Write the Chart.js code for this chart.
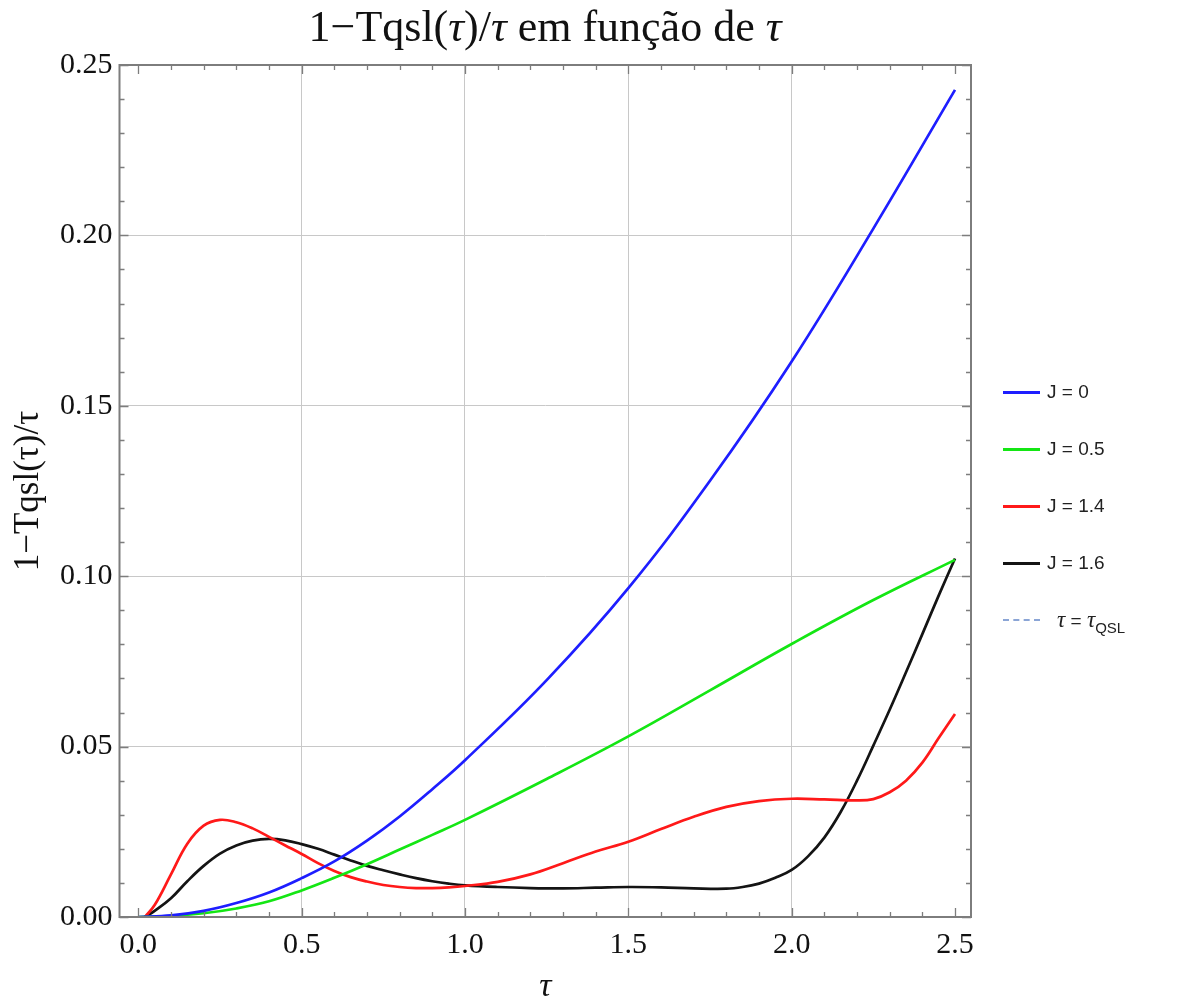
<!DOCTYPE html>
<html>
<head>
<meta charset="utf-8">
<script src="https://cdn.jsdelivr.net/npm/chart.js@4.4.1/dist/chart.umd.min.js"></script>
<style>
    html, body { margin: 0; padding: 0; background: #fff; }
    #wrap { position: relative; width: 1184px; height: 1005px; }
    #title { position: absolute; left: 0; width: 1090px; top: 2px; text-align: center; font-family: 'Liberation Serif', serif; font-size: 44px; line-height: 50px; color: #111; white-space: nowrap; }
    #legend { position: absolute; left: 1003px; top: 0; font-family: 'Liberation Sans', Arial, sans-serif; font-size: 19px; color: #222; }
    .item { position: absolute; left: 0; white-space: nowrap; height: 24px; }
    .swatch { position: absolute; left: 0; top: 11px; width: 37px; height: 0; border-top: 3px solid; }
    .lbl { position: absolute; left: 44px; top: 0; line-height: 24px; }
    .tau { font-family: 'Liberation Serif', serif; font-style: italic; font-size: 23px; }
    sub { font-size: 15px; vertical-align: -6px; }
</style>
</head>
<body>
<div id="wrap">
    <canvas id="myChart" width="1184" height="1005"></canvas>
    <div id="title">1−Tqsl(<i>τ</i>)/<i>τ</i> em função de <i>τ</i></div>
    <div id="legend"></div>
</div>
<script>
'use strict';

/*---------------------------- dados ----------------------------*/
const xTicks = [0, 0.5, 1.0, 1.5, 2.0, 2.5];
const yTicks = [0, 0.05, 0.10, 0.15, 0.20, 0.25];

// J = 0
const tauJ0 = [0, 0.1, 0.2, 0.3, 0.4, 0.5, 0.6, 0.7, 0.8, 0.9, 1.0, 1.25, 1.5, 1.75, 2.0, 2.25, 2.5];
const valJ0 = [0, 0.0005, 0.0018, 0.0041, 0.0072, 0.0114, 0.0163, 0.0224, 0.0295, 0.0375, 0.046, 0.0695, 0.0965, 0.128, 0.163, 0.202, 0.2427];

// J = 0.5
const tauJ05 = [0, 0.1, 0.2, 0.3, 0.4, 0.5, 0.6, 0.7, 0.8, 0.9, 1.0, 1.25, 1.5, 1.75, 2.0, 2.25, 2.5];
const valJ05 = [0, 0.0003, 0.0011, 0.0025, 0.0046, 0.0078, 0.0115, 0.0155, 0.0198, 0.0241, 0.0285, 0.0405, 0.053, 0.0665, 0.0801, 0.093, 0.1048];

// J = 1.4
const tauJ14 = [0.02, 0.05, 0.1, 0.15, 0.2, 0.25, 0.3, 0.35, 0.4, 0.45, 0.5, 0.55, 0.6, 0.65, 0.7, 0.75, 0.8, 0.85, 0.9, 0.95, 1.0,
    1.1, 1.2, 1.3, 1.4, 1.5, 1.6, 1.7, 1.8, 1.9, 2.0, 2.1, 2.2, 2.25, 2.3, 2.35, 2.4, 2.45, 2.5];
const valJ14 = [0, 0.0035, 0.0125, 0.0215, 0.0268, 0.0285, 0.0278, 0.026, 0.0235, 0.021, 0.0185, 0.0158, 0.0135, 0.0117, 0.0104, 0.0094, 0.0088, 0.0085, 0.0085, 0.0087, 0.0091,
    0.0103, 0.0125, 0.0158, 0.0192, 0.0221, 0.0258, 0.0294, 0.0323, 0.034, 0.0347, 0.0345, 0.0342, 0.0346, 0.0366, 0.04, 0.0453, 0.0525, 0.0596];

// J = 1.6
const tauJ16 = [0.02, 0.05, 0.1, 0.15, 0.2, 0.25, 0.3, 0.35, 0.4, 0.45, 0.5, 0.55, 0.6, 0.65, 0.7, 0.75, 0.8, 0.85, 0.9, 0.95, 1.0,
    1.1, 1.2, 1.3, 1.4, 1.5, 1.6, 1.7, 1.8, 1.85, 1.9, 1.95, 2.0, 2.05, 2.1, 2.15, 2.2, 2.25, 2.3, 2.35, 2.4, 2.45, 2.5];
const valJ16 = [0, 0.0018, 0.0055, 0.0105, 0.015, 0.0186, 0.021, 0.0224, 0.0229, 0.0225, 0.0214, 0.02, 0.0183, 0.0166, 0.015, 0.0137, 0.0125, 0.0114, 0.0105, 0.0098, 0.0093,
    0.0088, 0.0085, 0.0084, 0.0086, 0.0088, 0.0087, 0.0084, 0.0083, 0.0088, 0.0098, 0.0115, 0.0138, 0.0178, 0.0233, 0.0308, 0.04, 0.0503, 0.0608, 0.0718, 0.083, 0.0943, 0.1052];

// tau = tau_QSL
const tauQSL = [0, 2.5];
const valQSL = [0, 0];

const labels = ['J = 0', 'J = 0.5', 'J = 1.4', 'J = 1.6'];
const colors = ['rgb(30, 30, 255)', 'rgb(20, 230, 20)', 'rgb(255, 25, 25)', 'rgb(20, 20, 20)'];
const qslColor = 'rgba(100, 135, 200, 0.75)';

/*---------------------------- chart ----------------------------*/
const toPts = (xs, ys) => xs.map((x, i) => ({ x: x, y: ys[i] }));
const series = [[tauJ0, valJ0], [tauJ05, valJ05], [tauJ14, valJ14], [tauJ16, valJ16]];

const datasets = series.map((s, i) => ({
    label: labels[i],
    data: toPts(s[0], s[1]),
    borderColor: colors[i],
    borderWidth: 2.7,
    pointRadius: 0,
    tension: 0.4,
    fill: false
}));
datasets.push({
    label: 'τ = τQSL',
    data: toPts(tauQSL, valQSL),
    borderColor: qslColor,
    borderWidth: 2,
    borderDash: [6, 4],
    pointRadius: 0,
    fill: false
});

const FRAME = 'rgb(125, 125, 125)';

// moldura + ticks internos (maiores e menores)
const frameTicks = {
    id: 'frameTicks',
    afterDatasetsDraw(chart) {
        const ctx = chart.ctx;
        const a = chart.chartArea;
        const xs = chart.scales.x, ys = chart.scales.y;
        ctx.save();
        ctx.strokeStyle = FRAME;
        ctx.lineWidth = 1.3;
        ctx.beginPath();
        for (let i = 0; i <= 25; i++) {
            const px = Math.round(xs.getPixelForValue(i / 10)) + 0.5;
            const len = (i % 5 === 0) ? 9 : 5;
            ctx.moveTo(px, a.bottom); ctx.lineTo(px, a.bottom - len);
            ctx.moveTo(px, a.top); ctx.lineTo(px, a.top + len);
        }
        for (let i = 0; i <= 25; i++) {
            const py = Math.round(ys.getPixelForValue(i / 100)) + 0.5;
            const len = (i % 5 === 0) ? 9 : 5;
            ctx.moveTo(a.left, py); ctx.lineTo(a.left + len, py);
            ctx.moveTo(a.right, py); ctx.lineTo(a.right - len, py);
        }
        ctx.stroke();
        ctx.lineWidth = 2;
        ctx.strokeRect(a.left, a.top, a.right - a.left, a.bottom - a.top);
        ctx.restore();
    }
};

const gridColor = (edge) => (c) => (c.tick && edge.includes(c.tick.value)) ? 'rgba(0,0,0,0)' : 'rgb(200, 200, 200)';

const config = {
    type: 'line',
    data: { datasets: datasets },
    options: {
        responsive: false,
        animation: false,
        devicePixelRatio: 1,
        layout: { padding: { left: 0, right: 213, top: 65, bottom: 0 } },
        plugins: {
            legend: { display: false },
            tooltip: { enabled: false },
            title: { display: false }
        },
        scales: {
            x: {
                type: 'linear',
                min: -0.0576,
                max: 2.549,
                afterBuildTicks: (s) => { s.ticks = xTicks.map(v => ({ value: v })); },
                afterFit: (s) => { s.height = 88; },
                border: { display: false },
                grid: { color: gridColor([0, 2.5]), lineWidth: 1, drawTicks: false },
                ticks: {
                    padding: 10,
                    color: '#111',
                    font: { family: 'Liberation Serif', size: 30 },
                    maxRotation: 0,
                    callback: (v) => Number(v).toFixed(1)
                },
                title: {
                    display: true,
                    text: 'τ',
                    color: '#111',
                    font: { family: 'Liberation Serif', size: 34, style: 'italic' },
                    padding: { top: 0, bottom: -2 }
                }
            },
            y: {
                type: 'linear',
                min: 0,
                max: 0.25,
                afterBuildTicks: (s) => { s.ticks = yTicks.map(v => ({ value: v })); },
                afterFit: (s) => { s.width = 119.5; },
                border: { display: false },
                grid: { color: gridColor([0, 0.25]), lineWidth: 1, drawTicks: false },
                ticks: {
                    padding: 7,
                    color: '#111',
                    font: { family: 'Liberation Serif', size: 30 },
                    callback: (v) => Number(v).toFixed(2)
                },
                title: {
                    display: true,
                    text: '1−Tqsl(τ)/τ',
                    color: '#111',
                    font: { family: 'Liberation Serif', size: 35 },
                    padding: { top: 8, bottom: 0 }
                }
            }
        }
    },
    plugins: [frameTicks]
};
new Chart(document.getElementById('myChart'), config);

/*---------------------------- legenda --------------------------*/
const legendY = [392, 449, 506, 563, 622];
const legend = document.getElementById('legend');
labels.forEach((t, i) => {
    const it = document.createElement('div');
    it.className = 'item';
    it.style.top = (legendY[i] - 12) + 'px';
    it.innerHTML = '<span class="swatch" style="border-color:' + colors[i] + '"></span><span class="lbl">' + t + '</span>';
    legend.appendChild(it);
});
{
    const it = document.createElement('div');
    it.className = 'item';
    it.style.top = (legendY[4] - 14) + 'px';
    it.innerHTML = '<span class="swatch" style="border-top:2px dashed ' + qslColor + '"></span>' +
        '<span class="lbl" style="left:54px"><span class="tau">τ</span> = <span class="tau">τ</span><sub>QSL</sub></span>';
    legend.appendChild(it);
}
</script>
</body>
</html>
